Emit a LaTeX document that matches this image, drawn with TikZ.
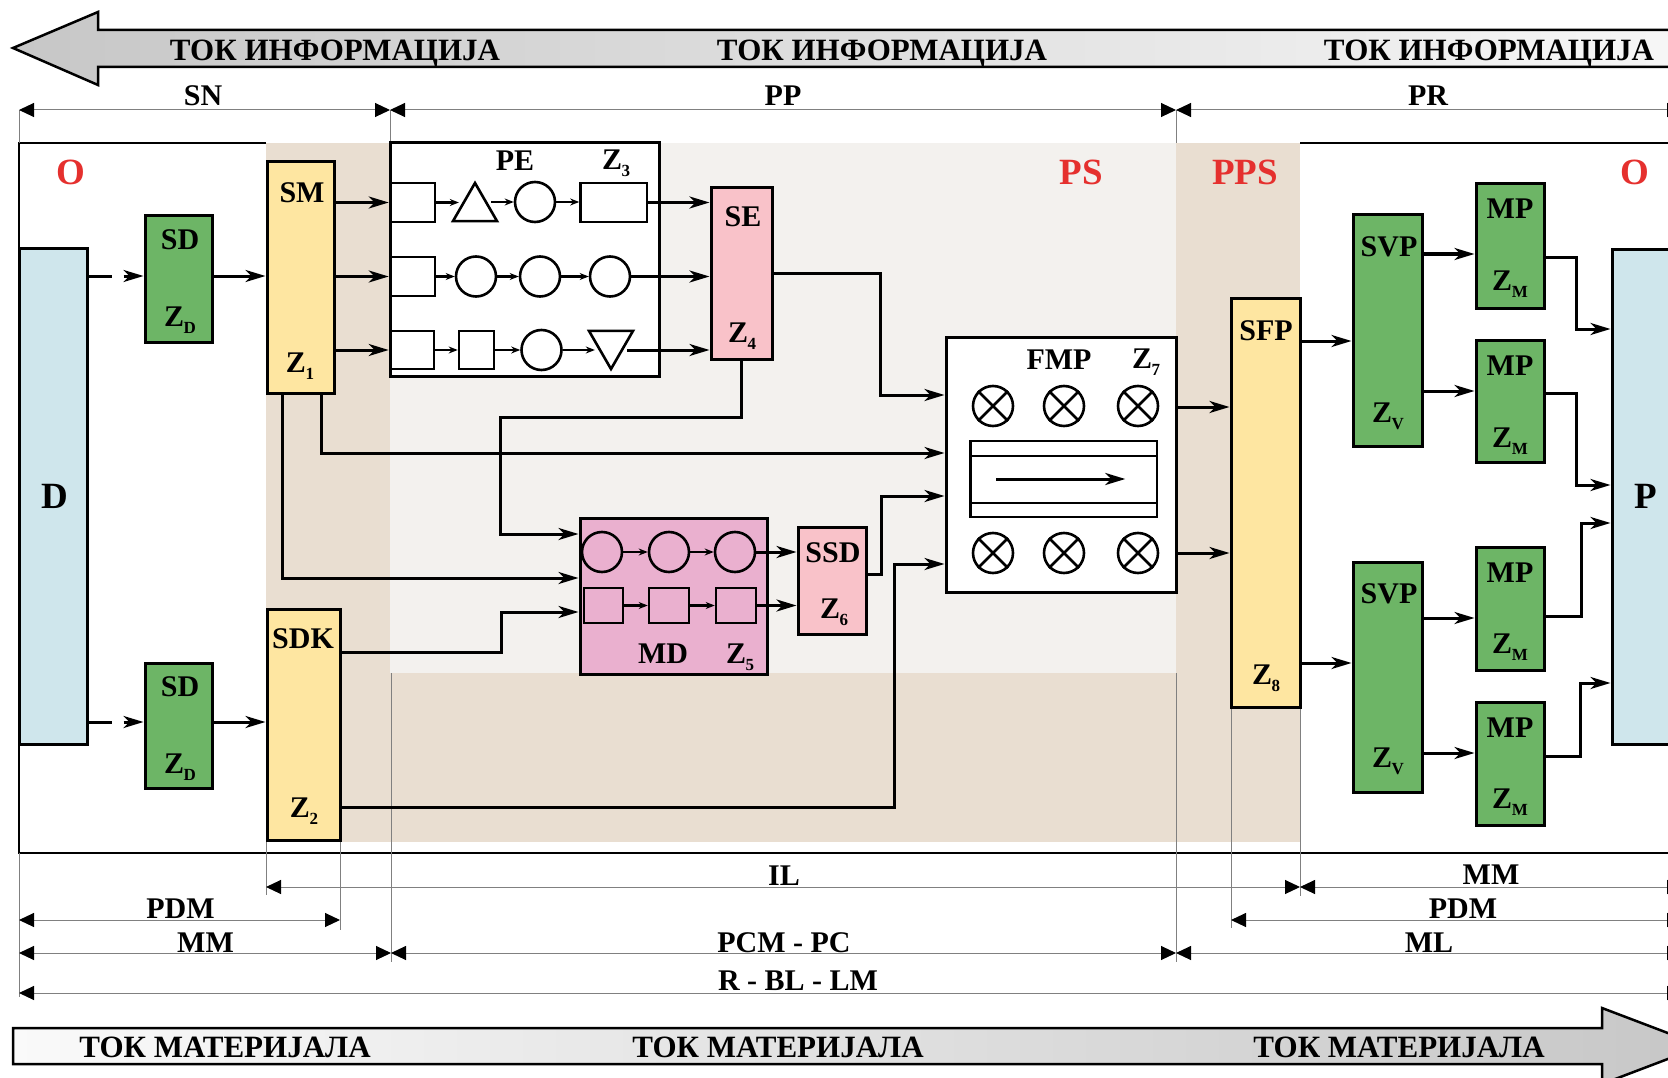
\documentclass[tikz,border=0pt]{standalone}
\usepackage{fontspec}
\setmainfont{Liberation Serif}
\usetikzlibrary{arrows.meta,fit,shapes.geometric}
\definecolor{grn}{HTML}{6DB566}
\definecolor{ylw}{HTML}{FEE6A1}
\definecolor{pnk}{HTML}{F9C2C9}
\definecolor{mdc}{HTML}{EAB0CF}
\definecolor{blu}{HTML}{CFE6EC}
\definecolor{brn}{HTML}{E9DED1}
\definecolor{lgr}{HTML}{F3F1EE}
\definecolor{redc}{HTML}{E5302E}
\newcommand{\Zi}[1]{Z\kern-0.5pt\raisebox{-7pt}{\fontsize{17}{17}\selectfont #1}}
\begin{document}
\begin{tikzpicture}[x=1pt,y=-1pt,
  blk/.style={draw=black, line width=3pt, inner sep=0pt, line join=miter},
  el/.style={draw=black, line width=2.6pt, inner sep=0pt},
  circ/.style={el, circle, minimum size=40pt},
  tri/.style={el, regular polygon, regular polygon sides=3, minimum size=50.8pt},
  conn/.style={line width=3pt, -{Stealth[length=20pt,width=12pt,inset=6pt]}},
  sconn/.style={line width=2.4pt, -{Stealth[length=9pt,width=7pt]}},
  dim/.style={line width=1pt, draw=black!50, {Triangle[length=15pt,width=14pt,color=black]}-{Triangle[length=15pt,width=14pt,color=black]}},
  ext/.style={line width=0.8pt, draw=black!50},
  lbl/.style={font=\bfseries\fontsize{30}{30}\selectfont, anchor=base, inner sep=0pt, text=black},
  big/.style={lbl, font=\bfseries\fontsize{37}{37}\selectfont},
  redl/.style={big, text=redc},
  flow/.style={lbl, font=\bfseries\fontsize{31}{31}\selectfont},
]
\useasboundingbox (0,0) rectangle (1668,1078);
% backgrounds
\fill[brn] (266,143) rectangle (1300,842);
\fill[lgr] (390,143) rectangle (1176,673);
\draw[line width=2.5pt, line join=miter] (266,143) -- (19,143) -- (19,853) -- (1700,853);
\draw[line width=2.5pt] (1300,143) -- (1700,143);
% flow arrows
\path[draw=black, line width=2.5pt, left color=black!22, right color=black!3]
  (13,48) -- (98,12) -- (98,30) -- (1710,30) -- (1710,67) -- (98,67) -- (98,85) -- cycle;
\path[draw=black, line width=2.5pt, left color=black!2, right color=black!22]
  (13,1028) -- (1602,1028) -- (1602,1008) -- (1702,1046) -- (1602,1084) -- (1602,1064) -- (13,1064) -- cycle;
\node[flow] (ta1) at (335,61) {ТОК ИНФОРМАЦИЈА};
\node[flow] (ta2) at (882,61) {ТОК ИНФОРМАЦИЈА};
\node[flow] (ta3) at (1489,61) {ТОК ИНФОРМАЦИЈА};
\node[flow] (tb1) at (225,1057) {ТОК МАТЕРИЈАЛА};
\node[flow] (tb2) at (778,1057) {ТОК МАТЕРИЈАЛА};
\node[flow] (tb3) at (1399,1057) {ТОК МАТЕРИЈАЛА};
% extension lines
\draw[ext] (19,110) -- (19,143);
\draw[ext] (390,110) -- (390,143);
\draw[ext] (1176,110) -- (1176,143);
\draw[ext] (19,853) -- (19,997);
\draw[ext] (266,840) -- (266,895);
\draw[ext] (340,840) -- (340,930);
\draw[ext] (391,673) -- (391,962);
\draw[ext] (1176,673) -- (1176,962);
\draw[ext] (1231,707) -- (1231,928);
\draw[ext] (1300,707) -- (1300,896);
% dimension lines
\draw[dim] (19,110) -- (390,110);
\draw[dim] (390,110) -- (1176,110);
\draw[dim] (1176,110) -- (1682,110);
\draw[dim] (266,887) -- (1300,887);
\draw[dim] (1300,887) -- (1682,887);
\draw[dim] (19,920) -- (340,920);
\draw[dim] (1231,920) -- (1682,920);
\draw[dim] (19,953) -- (391,953);
\draw[dim] (391,953) -- (1176,953);
\draw[dim] (1176,953) -- (1682,953);
\draw[dim] (19,993) -- (1682,993);
\node[lbl] (lSN) at (203,106) {SN};
\node[lbl] (lPP) at (783,106) {PP};
\node[lbl] (lPR) at (1428,106) {PR};
\node[lbl] (lIL) at (784,885) {IL};
\node[lbl] (lMMr) at (1491,884) {MM};
\node[lbl] (lPDMl) at (180.5,918) {PDM};
\node[lbl] (lPDMr) at (1463,918) {PDM};
\node[lbl] (lMMl) at (205.5,952) {MM};
\node[lbl] (lPCM) at (784,952) {PCM - PC};
\node[lbl] (lML) at (1429,952) {ML};
\node[lbl] (lR) at (798,990) {R - BL - LM};
% red region labels
\node[redl] (rO1) at (70.5,185) {O};
\node[redl] (rPS) at (1081,185) {PS};
\node[redl] (rPPS) at (1245,185) {PPS};
\node[redl] (rO2) at (1635,185) {O};
% blocks
\node[blk, fill=blu, fit={(19,249) (87,744)}] (D) {};
\node[blk, fill=blu, fit={(1612,250) (1710,744)}] (P) {};
\node[blk, fill=grn, fit={(145,216) (212,342)}] (SD1) {};
\node[blk, fill=grn, fit={(145,663) (212,788)}] (SD2) {};
\node[blk, fill=ylw, fit={(267,162) (334,393)}] (SM) {};
\node[blk, fill=ylw, fit={(267,609) (340,840)}] (SDK) {};
\node[blk, fill=white, fit={(390,143) (659,376)}] (PE) {};
\node[blk, fill=pnk, fit={(711,188) (772,359)}] (SE) {};
\node[blk, fill=mdc, fit={(580,518) (767,674)}] (MD) {};
\node[blk, fill=pnk, fit={(798,527) (866,634)}] (SSD) {};
\node[blk, fill=white, fit={(946,337) (1176,592)}] (FMP) {};
\node[blk, fill=ylw, fit={(1231,298) (1300,707)}] (SFP) {};
\node[blk, fill=grn, fit={(1353,215) (1422,446)}] (SVP1) {};
\node[blk, fill=grn, fit={(1353,562) (1422,792)}] (SVP2) {};
\node[blk, fill=grn, fit={(1476,184) (1544,308)}] (MP1) {};
\node[blk, fill=grn, fit={(1476,340) (1544,462)}] (MP2) {};
\node[blk, fill=grn, fit={(1476,547) (1544,670)}] (MP3) {};
\node[blk, fill=grn, fit={(1476,702) (1544,825)}] (MP4) {};
% block labels
\node[big] (tD) at (55,508) {D};
\node[big] (tP) at (1646,508) {P};
\node[lbl] (tSD1) at (180,250) {SD};
\node[lbl] (tZD1) at (180,326) {\Zi{D}};
\node[lbl] (tSD2) at (180,696) {SD};
\node[lbl] (tZD2) at (180,773) {\Zi{D}};
\node[lbl] (tSM) at (302,203) {SM};
\node[lbl] (tZ1) at (300,372) {\Zi{1}};
\node[lbl] (tSDK) at (303,648) {SDK};
\node[lbl] (tZ2) at (304,817) {\Zi{2}};
\node[lbl] (tPE) at (515,171) {PE};
\node[lbl] (tZ3) at (616,170) {\Zi{3}};
\node[lbl] (tSE) at (743,226) {SE};
\node[lbl] (tZ4) at (742,342) {\Zi{4}};
\node[lbl] (tMD) at (663,663) {MD};
\node[lbl] (tZ5) at (740,663) {\Zi{5}};
\node[lbl] (tSSD) at (833,562) {SSD};
\node[lbl] (tZ6) at (834,618) {\Zi{6}};
\node[lbl] (tFMP) at (1059,369) {FMP};
\node[lbl] (tZ7) at (1146,368) {\Zi{7}};
\node[lbl] (tSFP) at (1266,340) {SFP};
\node[lbl] (tZ8) at (1266,684) {\Zi{8}};
\node[lbl] (tSVP1) at (1389,257) {SVP};
\node[lbl] (tZV1) at (1388,422) {\Zi{V}};
\node[lbl] (tSVP2) at (1389,603) {SVP};
\node[lbl] (tZV2) at (1388,767) {\Zi{V}};
\node[lbl] (tMP1) at (1510,219) {MP};
\node[lbl] (tZM1) at (1510,290) {\Zi{M}};
\node[lbl] (tMP2) at (1510,375) {MP};
\node[lbl] (tZM2) at (1510,447) {\Zi{M}};
\node[lbl] (tMP3) at (1510,582) {MP};
\node[lbl] (tZM3) at (1510,653) {\Zi{M}};
\node[lbl] (tMP4) at (1510,737) {MP};
\node[lbl] (tZM4) at (1510,808) {\Zi{M}};
% PE elements
\node[el, fit={(390,183) (435,222)}] (a1) {};
\node[tri] (a2) at (475,208.4) {};
\node[circ] (a3) at (535,202) {};
\node[el, fit={(580.5,183) (647,222)}] (a4) {};
\node[el, fit={(390,257) (435,296)}] (b1) {};
\node[circ] (b2) at (476,276.5) {};
\node[circ] (b3) at (540,276.5) {};
\node[circ] (b4) at (610,276.5) {};
\node[el, fit={(390,331) (434,369)}] (c1) {};
\node[el, fit={(459,331) (494,369)}] (c2) {};
\node[circ] (c3) at (541.5,350) {};
\node[tri, shape border rotate=180] (c4) at (611,343.6) {};
% MD elements
\node[circ] (m1) at (602,552) {};
\node[circ] (m2) at (669,552) {};
\node[circ] (m3) at (735,552) {};
\node[el, fit={(584,588) (623,623)}] (n1) {};
\node[el, fit={(649,588) (689,623)}] (n2) {};
\node[el, fit={(716,588) (756,623)}] (n3) {};
% FMP elements
\foreach \nm/\cx/\cy in {x1/993/406, x2/1064/406, x3/1138/406, x4/993/553, x5/1064/553, x6/1138/553}{
  \node[circ] (\nm) at (\cx,\cy) {};
  \draw[line width=2.6pt] (\nm.45) -- (\nm.225) (\nm.135) -- (\nm.315);
}
\node[el, fit={(970.6,441) (1157,517)}] (cv) {};
\draw[line width=2.6pt] (cv.west |- 0,456) -- (cv.east |- 0,456);
\draw[line width=2.6pt] (cv.west |- 0,503) -- (cv.east |- 0,503);
\draw[conn] ([xshift=27pt]cv.west) -- ([xshift=-33pt]cv.east);
% connectors: left part
\draw[conn, dash pattern=on 23pt off 12pt on 80pt] (D.east |- 0,276) -- (SD1.west |- 0,276);
\draw[conn] (SD1.east |- 0,276) -- (SM.west |- 0,276);
\draw[conn, dash pattern=on 23pt off 12pt on 80pt] (D.east |- 0,722) -- (SD2.west |- 0,722);
\draw[conn] (SD2.east |- 0,722) -- (SDK.west |- 0,722);
\draw[conn] (SM.east |- a1.west) -- (a1.west);
\draw[conn] (SM.east |- b1.west) -- (b1.west);
\draw[conn] (SM.east |- c1.west) -- (c1.west);
% PE rows
\draw[sconn] (a1.east) -- (a2.west |- a1.east);
\draw[sconn] (a2.east |- a3.west) -- (a3.west);
\draw[sconn] (a3.east) -- (a4.west |- a3.east);
\draw[conn] (a4.east) -- (SE.west |- a4.east);
\draw[sconn] (b1.east) -- (b2.west);
\draw[sconn] (b2.east) -- (b3.west);
\draw[sconn] (b3.east) -- (b4.west);
\draw[conn] (b4.east) -- (SE.west |- b4.east);
\draw[sconn] (c1.east) -- (c2.west);
\draw[sconn] (c2.east) -- (c3.west);
\draw[sconn] (c3.east) -- (c4.west |- c3.east);
\draw[conn] (c4.east |- c3.east) -- (SE.west |- c3.east);
% to FMP and MD
\coordinate (k1) at (880,395);
\draw[conn] (SE.east) -| (k1) -- (FMP.west |- k1);
\coordinate (k2) at (741.5,417);
\coordinate (k3) at (500,534);
\draw[conn] (SE.south) -- (k2) -| (k3) -- (MD.west |- k3);
\coordinate (k4) at (282,578);
\draw[conn] (SM.south -| k4) -- (k4) -- (MD.west |- k4);
\coordinate (k5) at (321.5,453);
\draw[conn] (SM.south -| k5) -- (k5) -- (FMP.west |- k5);
\coordinate (k6) at (501,652);
\coordinate (k7) at (501,612);
\draw[conn] (SDK.east |- k6) -- (k6) -- (k7) -- (MD.west |- k7);
\coordinate (k8) at (894,807);
\coordinate (k9) at (894,564);
\draw[conn] (SDK.east |- k8) -- (k8) -- (k9) -- (FMP.west |- k9);
% MD internals
\draw[sconn] (m1.east) -- (m2.west);
\draw[sconn] (m2.east) -- (m3.west);
\draw[sconn] (n1.east) -- (n2.west);
\draw[sconn] (n2.east) -- (n3.west);
\draw[conn] (m3.east) -- (SSD.west |- m3.east);
\draw[conn] (n3.east) -- (SSD.west |- n3.east);
\coordinate (k10) at (881,574);
\coordinate (k11) at (881,496);
\draw[conn] (SSD.east |- k10) -- (k10) -- (k11) -- (FMP.west |- k11);
% right part
\draw[conn] (FMP.east |- 0,407) -- (SFP.west |- 0,407);
\draw[conn] (FMP.east |- 0,553) -- (SFP.west |- 0,553);
\draw[conn] (SFP.east |- 0,341) -- (SVP1.west |- 0,341);
\draw[conn] (SFP.east |- 0,663) -- (SVP2.west |- 0,663);
\draw[conn] (SVP1.east |- 0,254) -- (MP1.west |- 0,254);
\draw[conn] (SVP1.east |- 0,391) -- (MP2.west |- 0,391);
\draw[conn] (SVP2.east |- 0,618) -- (MP3.west |- 0,618);
\draw[conn] (SVP2.east |- 0,753) -- (MP4.west |- 0,753);
\coordinate (q1) at (1576,257);
\coordinate (q2) at (1576,329);
\draw[conn] (MP1.east |- q1) -- (q1) -- (q2) -- (P.west |- q2);
\coordinate (q3) at (1576,393);
\coordinate (q4) at (1576,485);
\draw[conn] (MP2.east |- q3) -- (q3) -- (q4) -- (P.west |- q4);
\coordinate (q5) at (1581,616);
\coordinate (q6) at (1581,523);
\draw[conn] (MP3.east |- q5) -- (q5) -- (q6) -- (P.west |- q6);
\coordinate (q7) at (1580,756);
\coordinate (q8) at (1580,683);
\draw[conn] (MP4.east |- q7) -- (q7) -- (q8) -- (P.west |- q8);
\end{tikzpicture}
\end{document}
